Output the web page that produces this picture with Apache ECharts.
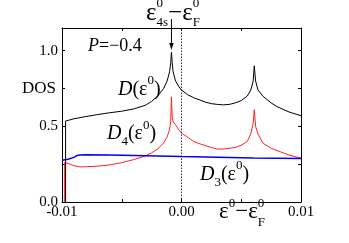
<!DOCTYPE html>
<html><head><meta charset="utf-8">
<script src="https://cdn.jsdelivr.net/npm/echarts@6/dist/echarts.min.js"></script>
<style>html,body{margin:0;padding:0;background:#fff}#c{width:349px;height:243px}</style>
</head><body><div id="c"></div>
<script>
// D(eps) total (black)
const xD = [-0.0097,-0.0097,-0.009,-0.008,-0.007,-0.006,-0.005,-0.004,-0.003,-0.0025,-0.002,-0.0015,-0.0012,-0.001,-0.0009,-0.00084,-0.00078,-0.0007,-0.0005,-0.0002,0,0.0005,0.001,0.0015,0.002,0.0025,0.003,0.0035,0.004,0.0045,0.005,0.0055,0.0058,0.006,0.00609,0.0062,0.0064,0.0068,0.0075,0.008,0.009,0.01];
const yD = [0,0.535,0.55,0.565,0.578,0.59,0.60,0.615,0.64,0.665,0.70,0.75,0.80,0.86,0.92,0.99,0.92,0.86,0.80,0.76,0.74,0.71,0.69,0.675,0.66,0.65,0.645,0.642,0.645,0.655,0.67,0.70,0.74,0.80,0.90,0.80,0.74,0.70,0.655,0.63,0.595,0.57];
// D4 (red)
const xD4 = [-0.0098,-0.0098,-0.0095,-0.009,-0.0085,-0.008,-0.007,-0.006,-0.005,-0.004,-0.003,-0.0025,-0.002,-0.0015,-0.0012,-0.001,-0.0009,-0.00084,-0.00078,-0.0007,-0.0005,-0.0002,0,0.0004,0.001,0.0017,0.0025,0.003,0.0035,0.0045,0.005,0.0055,0.0058,0.006,0.00609,0.0062,0.0064,0.0068,0.0075,0.008,0.009,0.01];
const yD4 = [0,0.26,0.255,0.24,0.232,0.233,0.237,0.245,0.26,0.28,0.305,0.325,0.35,0.39,0.43,0.48,0.53,0.695,0.56,0.53,0.51,0.475,0.455,0.435,0.40,0.38,0.36,0.35,0.35,0.36,0.375,0.40,0.45,0.52,0.61,0.50,0.45,0.39,0.355,0.34,0.31,0.29];
// D3 (blue)
const xD3 = [-0.01,-0.0095,-0.009,-0.0088,-0.0085,-0.008,-0.006,-0.004,-0.002,0,0.002,0.004,0.006,0.008,0.01];
const yD3 = [0.276,0.283,0.295,0.305,0.31,0.312,0.311,0.308,0.304,0.300,0.297,0.294,0.291,0.289,0.287];
const xTickLabels = ['-0.01','','0.00','','0.01'];
const yTickLabels = ['0.0','','0.5','','1.0'];
const peakX = -0.00084;

const F = 'Liberation Serif';
const pairs = (xs, ys) => xs.map((x, i) => [x, ys[i]]);
const chart = echarts.init(document.getElementById('c'), null, {renderer: 'canvas'});
const axisCommon = {
  axisLine: {show: true, onZero: false, lineStyle: {color: '#000', width: 1}},
  axisTick: {show: true, inside: true, length: 3, lineStyle: {color: '#000'}},
  splitLine: {show: false}
};
const xFmt = v => { const i = Math.round((v + 0.01) / 0.005); return xTickLabels[i] || ''; };
const yFmt = v => { const i = Math.round(v / 0.25); return (Math.abs(v - i*0.25) < 1e-6 && yTickLabels[i]) || ''; };
chart.setOption({
  animation: false,
  grid: {left: 62, right: 48, top: 28, bottom: 41},
  xAxis: [
    Object.assign({type: 'value', min: -0.01, max: 0.01, interval: 0.005, position: 'bottom',
      axisLabel: {formatter: xFmt, color: '#000', fontFamily: F, fontSize: 15, margin: 3}}, axisCommon),
    Object.assign({type: 'value', min: -0.01, max: 0.01, interval: 0.005, position: 'top',
      axisLabel: {show: false}}, axisCommon)
  ],
  yAxis: [
    Object.assign({type: 'value', min: 0, max: 1.15, interval: 0.25, position: 'left',
      axisLabel: {formatter: yFmt, color: '#000', fontFamily: F, fontSize: 15, margin: 4, showMaxLabel: false}}, axisCommon),
    Object.assign({type: 'value', min: 0, max: 1.15, interval: 0.25, position: 'right',
      axisLabel: {show: false}}, axisCommon)
  ],
  series: [
    {type: 'line', data: pairs(xD3, yD3), showSymbol: false, lineStyle: {color: '#0000ff', width: 1.5}, z: 3},
    {type: 'line', data: pairs(xD4, yD4), showSymbol: false, lineStyle: {color: '#ff2020', width: 1}, z: 2},
    {type: 'line', data: pairs(xD, yD), showSymbol: false, lineStyle: {color: '#000', width: 1}, z: 4,
      markLine: {symbol: ['none', 'none'], silent: true, label: {show: false},
        lineStyle: {color: '#000', type: [1.5, 1.5], width: 0.8}, data: [{xAxis: 0}]}}
  ]
});

// text composition with stacked sub/superscripts
const ctx = document.createElement('canvas').getContext('2d');
const fontStr = (s, it) => (it ? 'italic ' : '') + s + 'px "' + F + '"';
const measure = (t, s, it) => { ctx.font = fontStr(s, it); return ctx.measureText(t).width; };
// pieces: [text, kind] kind: n (normal), i (italic), sup, sub
function compose(x0, yc, size, ss, supDy, subDy, pieces) {
  const out = [];
  let x = x0, scriptStart = null, scriptEnd = x0;
  pieces.forEach(([t, k]) => {
    const isScript = (k === 'sup' || k === 'sub');
    const s = isScript ? ss : size;
    const it = (k === 'i');
    let px;
    if (isScript) {
      if (scriptStart === null) { scriptStart = x; scriptEnd = x; }
      px = scriptStart;
      scriptEnd = Math.max(scriptEnd, px + measure(t, s, false));
    } else {
      if (scriptStart !== null) { x = scriptEnd; scriptStart = null; }
      px = x;
      x += measure(t, s, it);
    }
    const y = k === 'sup' ? yc + supDy : (k === 'sub' ? yc + subDy : yc);
    out.push({type: 'text', x: px, y: y, style: {text: t, fontFamily: F, fontSize: s,
      fontStyle: it ? 'italic' : 'normal', fill: '#000', align: 'left', verticalAlign: 'middle'}});
  });
  return out;
}
const px = chart.convertToPixel({xAxisIndex: 0}, peakX);
const g = [].concat(
  [{type: 'text', x: 22, y: 89, style: {text: 'DOS', fontFamily: F, fontSize: 17, fill: '#000', verticalAlign: 'middle'}}],
  compose(88, 46, 18, 12, 0, 0, [['P', 'i'], ['=−0.4', 'n']]),
  compose(118, 90, 20, 13, -9, 8, [['D', 'i'], ['(ε', 'n'], ['0', 'sup'], [')', 'n']]),
  compose(107, 134, 20, 13, -8, 8, [['D', 'i'], ['4', 'sub'], ['(ε', 'n'], ['0', 'sup'], [')', 'n']]),
  compose(200, 175, 20, 13, -9, 8, [['D', 'i'], ['3', 'sub'], ['(ε', 'n'], ['0', 'sup'], [')', 'n']]),
  compose(146, 13, 25, 13, -9, 10, [['ε', 'n'], ['0', 'sup'], ['4s', 'sub'], ['−ε', 'n'], ['0', 'sup'], ['F', 'sub']]),
  compose(219, 212, 23, 13, -8, 11, [['ε', 'n'], ['0', 'sup'], ['−ε', 'n'], ['0', 'sup'], ['F', 'sub']]),
  [{type: 'line', shape: {x1: px, y1: 19, x2: px, y2: 44}, style: {stroke: '#000', lineWidth: 1}},
   {type: 'polygon', shape: {points: [[px - 2.2, 43], [px + 2.2, 43], [px, 50]]}, style: {fill: '#000'}}]
);
chart.setOption({graphic: g});
</script></body></html>
